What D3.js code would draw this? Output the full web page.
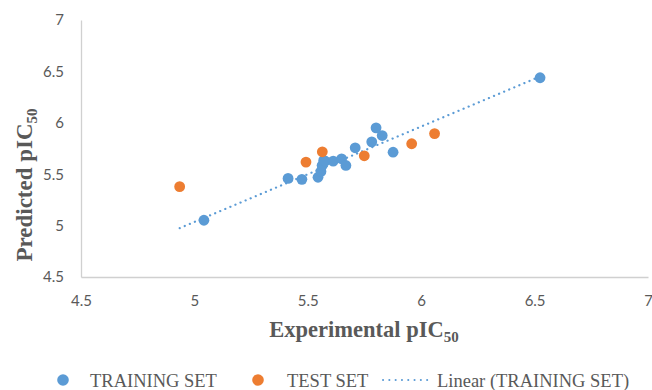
<!DOCTYPE html>
<html>
<head>
<meta charset="utf-8">
<script src="https://cdn.jsdelivr.net/npm/d3@7"></script>
<style>
body { margin: 0; background: #fff; }
.tick text { font-family: Lato, "Open Sans", sans-serif; font-size: 15px; fill: #595959; }
.title { font-family: "Liberation Serif", "DejaVu Serif", serif; font-weight: bold; fill: #595959; }
.legend text { font-family: "Liberation Serif", "DejaVu Serif", serif; font-size: 18.5px; fill: #595959; }
</style>
</head>
<body>
<svg id="chart" width="652" height="390"></svg>
<script>
// training set (experimental, predicted)
var trainX = [6.524, 5.042, 5.413, 5.474, 5.545, 5.558, 5.563, 5.570, 5.576, 5.612, 5.649, 5.668, 5.709, 5.782, 5.801, 5.828, 5.876];
var trainY = [6.438, 5.052, 5.459, 5.450, 5.470, 5.527, 5.585, 5.634, 5.627, 5.627, 5.650, 5.585, 5.757, 5.815, 5.951, 5.876, 5.714];
// test set
var testX = [4.935, 5.492, 5.564, 5.749, 5.958, 6.059];
var testY = [5.379, 5.618, 5.718, 5.679, 5.796, 5.895];
// linear trendline end points as drawn
var trendX = [4.935, 6.524];
var trendY = [4.975, 6.450];
var ticks = [4.5, 5, 5.5, 6, 6.5, 7];

var svg = d3.select("#chart");
var x = d3.scaleLinear().domain([4.5, 7]).range([81, 648]);
var y = d3.scaleLinear().domain([4.5, 7]).range([277, 20]);

var xAxis = d3.axisBottom(x).tickValues(ticks).tickSize(0).tickPadding(18).tickFormat(d3.format("~g"));
var yAxis = d3.axisLeft(y).tickValues(ticks).tickSize(0).tickPadding(17).tickFormat(d3.format("~g"));

var gx = svg.append("g").attr("transform", "translate(0,277)").call(xAxis);
var gy = svg.append("g").attr("transform", "translate(81,0)").call(yAxis);
gx.select(".domain").attr("stroke", "#d0d0d0").attr("stroke-width", 1.3);
gy.select(".domain").attr("stroke", "#d0d0d0").attr("stroke-width", 1.3);

// trendline
var trend = trendX.map(function(d, i) { return [d, trendY[i]]; });
svg.append("path")
    .datum(trend)
    .attr("d", d3.line().x(function(d) { return x(d[0]); }).y(function(d) { return y(d[1]); }))
    .attr("fill", "none")
    .attr("stroke", "#5b9bd5")
    .attr("stroke-width", 2.2)
    .attr("stroke-linecap", "round")
    .attr("stroke-dasharray", "0.1,5.4");

svg.append("g").selectAll("circle")
    .data(trainX)
    .enter()
    .append("circle")
    .attr("cx", function(d) { return x(d); })
    .attr("cy", function(d, i) { return y(trainY[i]); })
    .attr("r", 5.4)
    .attr("fill", "#5b9bd5");

svg.append("g").selectAll("circle")
    .data(testX)
    .enter()
    .append("circle")
    .attr("cx", function(d) { return x(d); })
    .attr("cy", function(d, i) { return y(testY[i]); })
    .attr("r", 5.4)
    .attr("fill", "#ed7d31");

// axis titles
var xt = svg.append("text").attr("class", "title").attr("font-size", "22.5px")
    .attr("x", 364).attr("y", 337).attr("text-anchor", "middle");
xt.append("tspan").text("Experimental pIC");
xt.append("tspan").text("50").attr("font-size", "15px").attr("dy", 5);

var yt = svg.append("text").attr("class", "title").attr("font-size", "23px")
    .attr("transform", "translate(32,185) rotate(-90)")
    .attr("text-anchor", "middle");
yt.append("tspan").text("Predicted pIC");
yt.append("tspan").text("50").attr("font-size", "15px").attr("dy", 5);

// legend
var legend = svg.append("g").attr("class", "legend");
legend.append("circle").attr("cx", 63).attr("cy", 380).attr("r", 5.8).attr("fill", "#5b9bd5");
legend.append("text").attr("x", 90).attr("y", 387).text("TRAINING SET");
legend.append("circle").attr("cx", 258).attr("cy", 380).attr("r", 5.8).attr("fill", "#ed7d31");
legend.append("text").attr("x", 287).attr("y", 387).text("TEST SET");
legend.append("line").attr("x1", 383).attr("x2", 433).attr("y1", 380).attr("y2", 380)
    .attr("stroke", "#5b9bd5").attr("stroke-width", 2).attr("stroke-linecap", "round")
    .attr("stroke-dasharray", "0.1,6.2");
legend.append("text").attr("x", 437).attr("y", 387).text("Linear (TRAINING SET)");
</script>
</body>
</html>
